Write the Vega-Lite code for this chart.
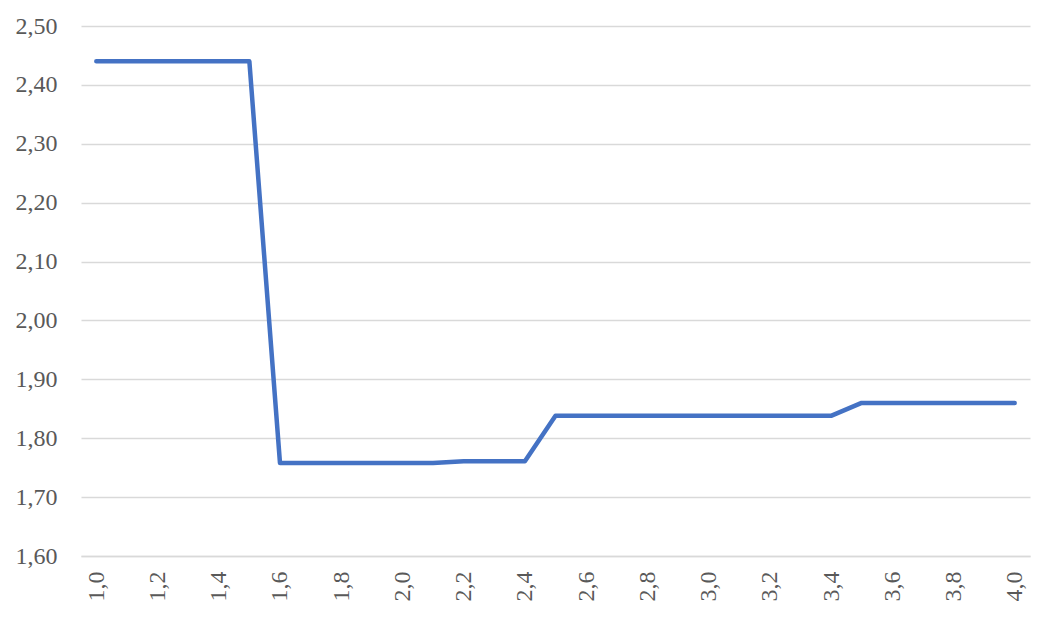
{
  "$schema": "https://vega.github.io/schema/vega-lite/v6.json",
  "autosize": "none",
  "width": 949,
  "height": 530,
  "padding": {"left": 81, "top": 26, "right": 23, "bottom": 62},
  "background": "white",
  "config": {"view": {"stroke": null}, "font": "Liberation Serif"},
  "data": {"values": [
    {"x": 1.0, "y": 2.44}, {"x": 1.1, "y": 2.44}, {"x": 1.2, "y": 2.44}, {"x": 1.3, "y": 2.44}, {"x": 1.4, "y": 2.44}, {"x": 1.5, "y": 2.44},
    {"x": 1.6, "y": 1.758}, {"x": 1.7, "y": 1.758}, {"x": 1.8, "y": 1.758}, {"x": 1.9, "y": 1.758}, {"x": 2.0, "y": 1.758}, {"x": 2.1, "y": 1.758},
    {"x": 2.2, "y": 1.761}, {"x": 2.3, "y": 1.761}, {"x": 2.4, "y": 1.761},
    {"x": 2.5, "y": 1.838}, {"x": 2.6, "y": 1.838}, {"x": 2.7, "y": 1.838}, {"x": 2.8, "y": 1.838}, {"x": 2.9, "y": 1.838}, {"x": 3.0, "y": 1.838},
    {"x": 3.1, "y": 1.838}, {"x": 3.2, "y": 1.838}, {"x": 3.3, "y": 1.838}, {"x": 3.4, "y": 1.838},
    {"x": 3.5, "y": 1.86}, {"x": 3.6, "y": 1.86}, {"x": 3.7, "y": 1.86}, {"x": 3.8, "y": 1.86}, {"x": 3.9, "y": 1.86}, {"x": 4.0, "y": 1.86}
  ]},
  "mark": {"type": "line", "color": "#4472C4", "strokeWidth": 4.5, "strokeCap": "round", "strokeJoin": "round", "clip": false},
  "encoding": {
    "x": {
      "field": "x", "type": "quantitative",
      "scale": {"domain": [0.95, 4.05], "nice": false, "zero": false},
      "axis": {
        "title": null, "grid": false, "ticks": false,
        "domain": true, "domainColor": "#d9d9d9", "domainWidth": 1.5,
        "values": [1.0, 1.2, 1.4, 1.6, 1.8, 2.0, 2.2, 2.4, 2.6, 2.8, 3.0, 3.2, 3.4, 3.6, 3.8, 4.0],
        "labelExpr": "replace(format(datum.value, '.1f'), '.', ',')",
        "labelAngle": 270, "labelAlign": "right", "labelBaseline": "middle",
        "labelPadding": 15, "labelFontSize": 24, "labelColor": "#595959", "labelFont": "Liberation Serif",
        "labelOverlap": false
      }
    },
    "y": {
      "field": "y", "type": "quantitative",
      "scale": {"domain": [1.6, 2.5], "nice": false, "zero": false},
      "axis": {
        "title": null, "domain": false, "ticks": false,
        "values": [1.6, 1.7, 1.8, 1.9, 2.0, 2.1, 2.2, 2.3, 2.4, 2.5],
        "labelExpr": "replace(format(datum.value, '.2f'), '.', ',')",
        "grid": true, "gridColor": "#d9d9d9", "gridWidth": 1.5,
        "labelPadding": 24, "labelFontSize": 24, "labelColor": "#595959", "labelFont": "Liberation Serif"
      }
    }
  }
}
